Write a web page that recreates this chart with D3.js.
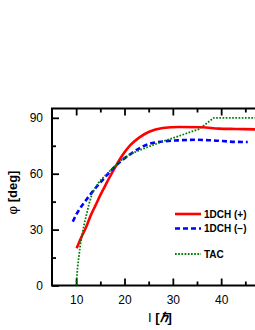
<!DOCTYPE html>
<html>
<head>
<meta charset="UTF-8">
<style>
  body { margin: 0; background: #fff; font-family: 'Liberation Sans', Arial, sans-serif; }
  .axis text { font: 12px 'Liberation Sans', Arial, sans-serif; fill: #000; }
  .axis line { stroke: #000; stroke-width: 1.8px; }
  .axis path { display: none; }
  .leg { font: bold 10px 'Liberation Sans', Arial, sans-serif; }
</style>
</head>
<body>
<div id="chart"></div>
<script src="https://cdn.jsdelivr.net/npm/d3@7"></script>
<script>
// data: spin I [hbar] and angle phi [deg]
const plusI   = [10.1, 11.0, 12.0, 13.0, 14.0, 15.0, 16.0, 17.0, 18.3, 19.6, 21.2, 23.1, 25.1, 27.9, 31.3, 36.1, 39.5, 43.0, 47.0, 49.0];
const plusPhi = [20, 25.5, 31, 37.5, 43, 48.5, 53.5, 58.5, 64.5, 70, 75.3, 79.5, 82.5, 84.5, 85.1, 84.9, 84.2, 84.0, 83.8, 83.7];

const minusI   = [9.3, 10.0, 10.7, 12.1, 13.4, 15.5, 17.5, 19.6, 21.5, 23.5, 25.1, 27.9, 31.0, 34.7, 38.1, 42.9, 45.5];
const minusPhi = [34.3, 38, 41, 46, 50.4, 56.7, 62.5, 67.4, 71, 74.3, 76, 77.3, 77.9, 78.2, 77.9, 77.1, 77];

const tacI   = [10.0, 10.3, 10.9, 11.7, 12.7, 13.3, 14.8, 16.9, 18.9, 21.2, 23.0, 25.1, 27.9, 32.0, 35.4, 38.5, 50.0];
const tacPhi = [0, 10, 22.7, 33.4, 44.2, 49.5, 55.8, 61.2, 66.5, 70.5, 72.5, 74.6, 77.3, 80.9, 83.9, 90, 90];

const xTicks = [10, 20, 30, 40];
const xMinor = [15, 25, 35, 45];
const yTicks = [0, 30, 60, 90];
const yMinor = [15, 45, 75];

const legendNames = ['1DCH (+)', '1DCH (\u2212)', 'TAC'];

const W = 255, H = 330;
const mLeft = 52, mRight = 269.5, mTop = 108.5, mBottom = 285.5;

const svg = d3.select('#chart').append('svg')
    .attr('width', W).attr('height', H);

const x = d3.scaleLinear().domain([5, 50]).range([mLeft, mRight]);
const y = d3.scaleLinear().domain([0, 95]).range([mBottom, mTop]);

svg.append('defs').append('clipPath').attr('id', 'clip')
  .append('rect').attr('x', mLeft).attr('y', mTop)
    .attr('width', mRight - mLeft).attr('height', mBottom - mTop);

// axes (ticks pointing inwards)
svg.append('g').attr('class', 'axis')
    .attr('transform', `translate(0,${mBottom})`)
    .call(d3.axisBottom(x).tickValues(xTicks).tickSize(-7).tickPadding(10));
svg.append('g').attr('class', 'axis')
    .attr('transform', `translate(0,${mBottom})`)
    .call(d3.axisBottom(x).tickValues(xMinor).tickSize(-4).tickFormat(''));
svg.append('g').attr('class', 'axis')
    .attr('transform', `translate(0,${mTop})`)
    .call(d3.axisTop(x).tickValues(xTicks).tickSize(-7).tickFormat(''));
svg.append('g').attr('class', 'axis')
    .attr('transform', `translate(0,${mTop})`)
    .call(d3.axisTop(x).tickValues(xMinor).tickSize(-4).tickFormat(''));
svg.append('g').attr('class', 'axis')
    .attr('transform', `translate(${mLeft},0)`)
    .call(d3.axisLeft(y).tickValues(yTicks).tickSize(-7).tickPadding(9));
svg.append('g').attr('class', 'axis')
    .attr('transform', `translate(${mLeft},0)`)
    .call(d3.axisLeft(y).tickValues(yMinor).tickSize(-4).tickFormat(''));

// frame
svg.append('rect')
    .attr('x', mLeft).attr('y', mTop)
    .attr('width', mRight - mLeft).attr('height', mBottom - mTop)
    .attr('fill', 'none').attr('stroke', '#000').attr('stroke-width', 2);

const series = [
  {I: plusI, phi: plusPhi, color: '#ff0000', dash: null, width: 2.6, curve: d3.curveMonotoneX},
  {I: minusI, phi: minusPhi, color: '#0000ff', dash: '5,3', width: 2.6, curve: d3.curveMonotoneX},
  {I: tacI, phi: tacPhi, color: '#008000', dash: '1.7,1.5', width: 1.8, curve: d3.curveLinear}
];

const plot = svg.append('g').attr('clip-path', 'url(#clip)');
series.forEach(s => {
  const pts = s.I.map((v, i) => [v, s.phi[i]]);
  plot.append('path')
      .attr('d', d3.line().x(d => x(d[0])).y(d => y(d[1])).curve(s.curve)(pts))
      .attr('fill', 'none')
      .attr('stroke', s.color)
      .attr('stroke-width', s.width)
      .attr('stroke-dasharray', s.dash);
});

// legend
const legY = [214, 228.5, 254];
series.forEach((s, i) => {
  svg.append('line')
      .attr('x1', 175).attr('x2', 201)
      .attr('y1', legY[i]).attr('y2', legY[i])
      .attr('stroke', s.color).attr('stroke-width', s.width)
      .attr('stroke-dasharray', s.dash);
  svg.append('text').attr('class', 'leg')
      .attr('x', 204).attr('y', legY[i] + 3.5)
      .text(legendNames[i]);
});

// axis titles
const xt = svg.append('text')
    .attr('x', 160).attr('y', 321.5)
    .attr('text-anchor', 'middle')
    .style('font-size', '13px');
xt.append('tspan').text('I ');
xt.append('tspan').attr('font-weight', 'bold').text('[');
xt.append('tspan').attr('font-weight', 'bold').attr('font-style', 'italic').text('\u210F');
xt.append('tspan').attr('font-weight', 'bold').text(']');

const yt = svg.append('text')
    .attr('transform', 'translate(16.5,192.5) rotate(-90)')
    .attr('text-anchor', 'middle')
    .style('font-size', '13px');
yt.append('tspan').text('\u03C6 ');
yt.append('tspan').attr('font-weight', 'bold').text('[deg]');
</script>
</body>
</html>
